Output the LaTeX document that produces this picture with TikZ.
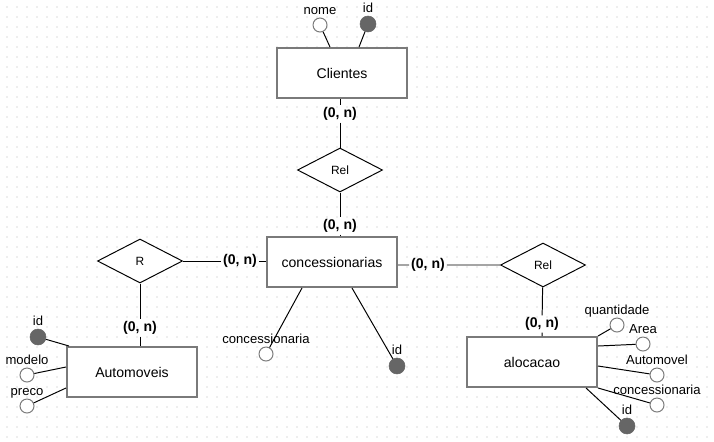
\documentclass[tikz,border=0pt]{standalone}
\usepackage{fontspec}
\setmainfont{Liberation Sans}
\usepackage{tikz}
\usetikzlibrary{shapes.geometric, calc, positioning}
\definecolor{entgray}{HTML}{7A7A7A}
\definecolor{keygray}{HTML}{666666}
\definecolor{dotgray}{HTML}{B4B4B4}

\begin{document}
\begin{tikzpicture}[x=0.025cm, y=-0.025cm,
    entidade/.style={draw=entgray, line width=1.4pt, fill=white, minimum width=3.25cm, minimum height=1.25cm, font=\fontsize{10}{12}\selectfont},
    relacao/.style={diamond, draw=black, line width=0.7pt, fill=white, minimum width=2.125cm, minimum height=1.1cm, inner sep=0pt, font=\fontsize{8.5}{10}\selectfont},
    atributo/.style={circle, draw=entgray, line width=0.7pt, fill=white, minimum size=0.35cm, inner sep=0pt},
    chave/.style={circle, draw=keygray, fill=keygray, minimum size=0.4cm, inner sep=0pt},
    card/.style={font=\fontsize{10}{12}\selectfont\bfseries, inner sep=1.2pt},
    liga/.style={draw=black, line width=0.7pt},
    every label/.style={font=\fontsize{9.3}{11}\selectfont, inner sep=0pt, text depth=0pt},
    label distance=2pt]
  % grade de pontos
  \foreach \i in {0,...,70}
    \foreach \j in {0,...,43}
      \fill[dotgray] (7+10*\i, 7+10*\j) circle (0.45pt);
  \useasboundingbox (0,0) rectangle (714,441);

  % entidades
  \node[entidade] (cli) at (342,73) {Clientes};
  \node[entidade] (con) at (332,262) {concessionarias};
  \node[entidade] (aut) at (132,372) {Automoveis};
  \node[entidade] (alo) at (532,362) {alocacao};

  % relacionamentos
  \node[relacao] (relCli) at (340,170) {Rel};
  \node[relacao] (relAut) at (140,261) {R};
  \node[relacao] (relAlo) at (543,265) {Rel};

  % cardinalidades
  \node[card] (cCli) at (340,114) {(0, n)};
  \node[card] (cConTop) at (340,226) {(0, n)};
  \node[card] (cConL) at (240,261) {(0, n)};
  \node[card] (cAut) at (140,328) {(0, n)};
  \node[card] (cConR) at (428,265) {(0, n)};
  \node[card] (cAlo) at (542,324) {(0, n)};

  \draw[liga] (cli.south -| cCli) -- (cCli) -- (relCli) -- (cConTop) -- (cConTop |- con.north);
  \draw[liga] (relAut) -- (cConL) -- (cConL -| con.west);
  \draw[liga] (relAut) -- (cAut) -- (cAut |- aut.north);
  \draw[liga] (con.east |- cConR) -- (cConR) -- (relAlo) -- (cAlo) -- (cAlo |- alo.north);

  % atributos de Clientes
  \node[atributo, label=above:nome] (cliNome) at (320,25) {};
  \node[chave, label=above:id] (cliId) at (368,24) {};
  \draw[liga] (cliNome) -- ($(cli.north)+(-12,0)$);
  \draw[liga] (cliId) -- ($(cli.north)+(17,0)$);

  % atributos de Automoveis
  \node[chave, label=above:id] (autId) at (38,337) {};
  \node[atributo, label=above:modelo] (autModelo) at (27,375) {};
  \node[atributo, label=above:preco] (autPreco) at (27,406) {};
  \draw[liga] (autId) -- ($(aut.north west)+(3,0)$);
  \draw[liga] (autModelo) -- ($(aut.west)+(0,-5)$);
  \draw[liga] (autPreco) -- ($(aut.west)+(0,16)$);

  % atributos de concessionarias
  \node[atributo, label=above:concessionaria] (conConc) at (266,354) {};
  \node[chave, label=above:id] (conId) at (397,366) {};
  \draw[liga] ($(con.south)+(-30,0)$) -- (conConc);
  \draw[liga] ($(con.south)+(20,0)$) -- (conId);

  % atributos de alocacao
  \node[atributo, label=above:quantidade] (aloQtd) at (617,325) {};
  \node[atributo, label=above:Area] (aloArea) at (643,344) {};
  \node[atributo, label=above:Automovel] (aloAuto) at (657,375) {};
  \node[atributo, label=above:concessionaria] (aloConc) at (657,405) {};
  \node[chave, label=above:id] (aloId) at (627,426) {};
  \draw[liga] (alo.north east) -- (aloQtd);
  \draw[liga] ($(alo.east)+(0,-16)$) -- (aloArea);
  \draw[liga] ($(alo.east)+(0,4)$) -- (aloAuto);
  \draw[liga] (alo.south east) -- (aloConc);
  \draw[liga] ($(alo.south east)+(-12,0)$) -- (aloId);
\end{tikzpicture}
\end{document}
